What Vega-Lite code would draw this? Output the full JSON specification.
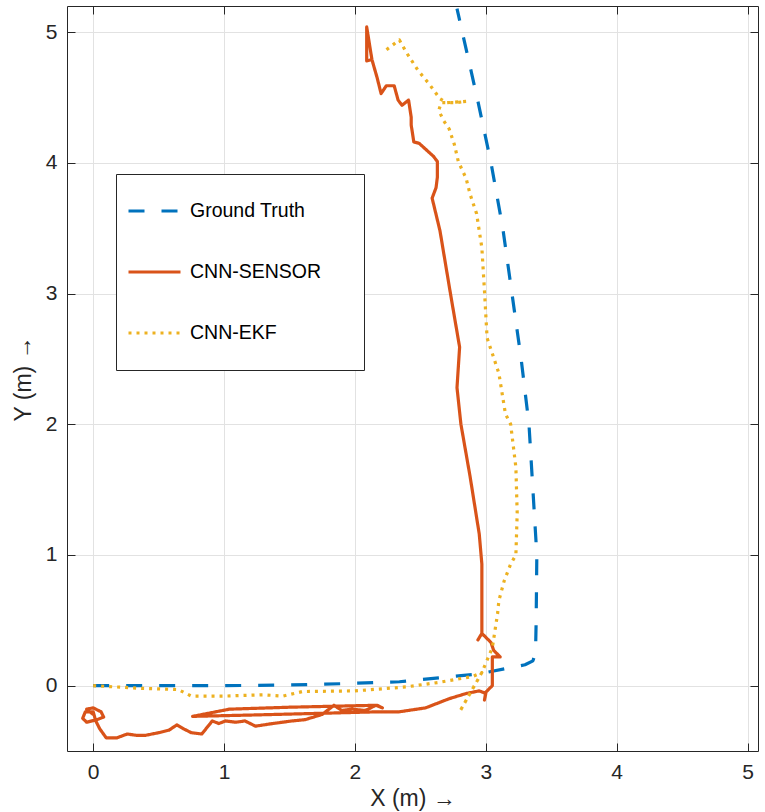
{
  "$schema": "https://vega.github.io/schema/vega-lite/v6.json",
  "width": 691,
  "height": 745,
  "padding": {"left": 12, "top": 5, "right": 5, "bottom": 5},
  "background": "white",
  "config": {
    "font": "Liberation Sans",
    "view": {"stroke": null},
    "axis": {
      "grid": true,
      "gridColor": "#e2e2e2",
      "gridWidth": 1,
      "domainColor": "#262626",
      "domainWidth": 1,
      "tickColor": "#262626",
      "tickSize": -8,
      "tickWidth": 1,
      "labelFont": "Liberation Sans",
      "labelFontSize": 21,
      "labelColor": "#262626",
      "labelPadding": 18,
      "titleFont": "Liberation Sans",
      "titleFontSize": 23,
      "titleFontWeight": "normal",
      "titleColor": "#262626"
    },
    "legend": {
      "orient": "none",
      "legendX": 49,
      "legendY": 168,
      "symbolType": "stroke",
      "symbolSize": 2704,
      "symbolStrokeWidth": 3,
      "labelFont": "Liberation Sans",
      "labelFontSize": 19.5,
      "labelColor": "#000000",
      "labelOffset": 8,
      "labelLimit": 300,
      "clipHeight": 52,
      "padding": 11,
      "rowPadding": 9,
      "strokeColor": "#262626",
      "fillColor": "white",
      "titleOrient": "right",
      "titlePadding": 32,
      "titleFontSize": 19
    }
  },
  "data": {
    "values": [
      {"s": "Ground Truth", "i": 0, "x": 0, "y": 0},
      {"s": "Ground Truth", "i": 1, "x": 0.5, "y": 0},
      {"s": "Ground Truth", "i": 2, "x": 1.0, "y": 0},
      {"s": "Ground Truth", "i": 3, "x": 1.5, "y": 0.005},
      {"s": "Ground Truth", "i": 4, "x": 1.9, "y": 0.015},
      {"s": "Ground Truth", "i": 5, "x": 2.34, "y": 0.03},
      {"s": "Ground Truth", "i": 6, "x": 2.64, "y": 0.06},
      {"s": "Ground Truth", "i": 7, "x": 2.95, "y": 0.09},
      {"s": "Ground Truth", "i": 8, "x": 3.15, "y": 0.13},
      {"s": "Ground Truth", "i": 9, "x": 3.3, "y": 0.16},
      {"s": "Ground Truth", "i": 10, "x": 3.36, "y": 0.19},
      {"s": "Ground Truth", "i": 11, "x": 3.38, "y": 0.25},
      {"s": "Ground Truth", "i": 12, "x": 3.385, "y": 0.5},
      {"s": "Ground Truth", "i": 13, "x": 3.39, "y": 1.0},
      {"s": "Ground Truth", "i": 14, "x": 3.36, "y": 1.5},
      {"s": "Ground Truth", "i": 15, "x": 3.33, "y": 2.0},
      {"s": "Ground Truth", "i": 16, "x": 3.27, "y": 2.5},
      {"s": "Ground Truth", "i": 17, "x": 3.2, "y": 3.0},
      {"s": "Ground Truth", "i": 18, "x": 3.13, "y": 3.5},
      {"s": "Ground Truth", "i": 19, "x": 3.04, "y": 4.0},
      {"s": "Ground Truth", "i": 20, "x": 2.94, "y": 4.47},
      {"s": "Ground Truth", "i": 21, "x": 2.78, "y": 5.18},

      {"s": "CNN-SENSOR", "i": 0, "x": 0.0, "y": -0.22},
      {"s": "CNN-SENSOR", "i": 1, "x": -0.05, "y": -0.18},
      {"s": "CNN-SENSOR", "i": 2, "x": 0.0, "y": -0.17},
      {"s": "CNN-SENSOR", "i": 3, "x": 0.06, "y": -0.2},
      {"s": "CNN-SENSOR", "i": 4, "x": 0.08, "y": -0.24},
      {"s": "CNN-SENSOR", "i": 5, "x": 0.03, "y": -0.26},
      {"s": "CNN-SENSOR", "i": 6, "x": -0.05, "y": -0.28},
      {"s": "CNN-SENSOR", "i": 7, "x": -0.08, "y": -0.25},
      {"s": "CNN-SENSOR", "i": 8, "x": -0.06, "y": -0.2},
      {"s": "CNN-SENSOR", "i": 9, "x": 0.0, "y": -0.2},
      {"s": "CNN-SENSOR", "i": 10, "x": 0.02, "y": -0.27},
      {"s": "CNN-SENSOR", "i": 11, "x": 0.05, "y": -0.33},
      {"s": "CNN-SENSOR", "i": 12, "x": 0.1, "y": -0.4},
      {"s": "CNN-SENSOR", "i": 13, "x": 0.18, "y": -0.4},
      {"s": "CNN-SENSOR", "i": 14, "x": 0.26, "y": -0.37},
      {"s": "CNN-SENSOR", "i": 15, "x": 0.33, "y": -0.38},
      {"s": "CNN-SENSOR", "i": 16, "x": 0.4, "y": -0.38},
      {"s": "CNN-SENSOR", "i": 17, "x": 0.5, "y": -0.36},
      {"s": "CNN-SENSOR", "i": 18, "x": 0.58, "y": -0.34},
      {"s": "CNN-SENSOR", "i": 19, "x": 0.64, "y": -0.3},
      {"s": "CNN-SENSOR", "i": 20, "x": 0.69, "y": -0.33},
      {"s": "CNN-SENSOR", "i": 21, "x": 0.75, "y": -0.36},
      {"s": "CNN-SENSOR", "i": 22, "x": 0.83, "y": -0.37},
      {"s": "CNN-SENSOR", "i": 23, "x": 0.91, "y": -0.27},
      {"s": "CNN-SENSOR", "i": 24, "x": 0.96, "y": -0.29},
      {"s": "CNN-SENSOR", "i": 25, "x": 1.01, "y": -0.27},
      {"s": "CNN-SENSOR", "i": 26, "x": 1.09, "y": -0.28},
      {"s": "CNN-SENSOR", "i": 27, "x": 1.16, "y": -0.27},
      {"s": "CNN-SENSOR", "i": 28, "x": 1.24, "y": -0.31},
      {"s": "CNN-SENSOR", "i": 29, "x": 1.37, "y": -0.29},
      {"s": "CNN-SENSOR", "i": 30, "x": 1.52, "y": -0.27},
      {"s": "CNN-SENSOR", "i": 31, "x": 1.62, "y": -0.26},
      {"s": "CNN-SENSOR", "i": 32, "x": 1.75, "y": -0.22},
      {"s": "CNN-SENSOR", "i": 33, "x": 1.84, "y": -0.15},
      {"s": "CNN-SENSOR", "i": 34, "x": 1.9, "y": -0.19},
      {"s": "CNN-SENSOR", "i": 35, "x": 1.98, "y": -0.18},
      {"s": "CNN-SENSOR", "i": 36, "x": 2.08, "y": -0.19},
      {"s": "CNN-SENSOR", "i": 37, "x": 2.16, "y": -0.15},
      {"s": "CNN-SENSOR", "i": 38, "x": 2.21, "y": -0.17},
      {"s": "CNN-SENSOR", "i": 39, "x": 2.17, "y": -0.15},
      {"s": "CNN-SENSOR", "i": 40, "x": 1.5, "y": -0.165},
      {"s": "CNN-SENSOR", "i": 41, "x": 1.04, "y": -0.18},
      {"s": "CNN-SENSOR", "i": 42, "x": 0.76, "y": -0.235},
      {"s": "CNN-SENSOR", "i": 43, "x": 1.2, "y": -0.225},
      {"s": "CNN-SENSOR", "i": 44, "x": 1.8, "y": -0.21},
      {"s": "CNN-SENSOR", "i": 45, "x": 2.18, "y": -0.2},
      {"s": "CNN-SENSOR", "i": 46, "x": 2.34, "y": -0.2},
      {"s": "CNN-SENSOR", "i": 47, "x": 2.54, "y": -0.17},
      {"s": "CNN-SENSOR", "i": 48, "x": 2.72, "y": -0.1},
      {"s": "CNN-SENSOR", "i": 49, "x": 2.85, "y": -0.06},
      {"s": "CNN-SENSOR", "i": 50, "x": 2.95, "y": -0.04},
      {"s": "CNN-SENSOR", "i": 51, "x": 3.0, "y": -0.06},
      {"s": "CNN-SENSOR", "i": 52, "x": 2.99, "y": -0.11},
      {"s": "CNN-SENSOR", "i": 53, "x": 3.0, "y": -0.05},
      {"s": "CNN-SENSOR", "i": 54, "x": 3.05, "y": 0.0},
      {"s": "CNN-SENSOR", "i": 55, "x": 3.05, "y": 0.22},
      {"s": "CNN-SENSOR", "i": 56, "x": 3.11, "y": 0.22},
      {"s": "CNN-SENSOR", "i": 57, "x": 3.06, "y": 0.27},
      {"s": "CNN-SENSOR", "i": 58, "x": 3.04, "y": 0.33},
      {"s": "CNN-SENSOR", "i": 59, "x": 2.97, "y": 0.4},
      {"s": "CNN-SENSOR", "i": 60, "x": 2.94, "y": 0.35},
      {"s": "CNN-SENSOR", "i": 61, "x": 2.97, "y": 0.4},
      {"s": "CNN-SENSOR", "i": 62, "x": 2.97, "y": 0.65},
      {"s": "CNN-SENSOR", "i": 63, "x": 2.97, "y": 0.93},
      {"s": "CNN-SENSOR", "i": 64, "x": 2.95, "y": 1.16},
      {"s": "CNN-SENSOR", "i": 65, "x": 2.88, "y": 1.6},
      {"s": "CNN-SENSOR", "i": 66, "x": 2.81, "y": 2.0},
      {"s": "CNN-SENSOR", "i": 67, "x": 2.78, "y": 2.28},
      {"s": "CNN-SENSOR", "i": 68, "x": 2.8, "y": 2.59},
      {"s": "CNN-SENSOR", "i": 69, "x": 2.73, "y": 3.0},
      {"s": "CNN-SENSOR", "i": 70, "x": 2.65, "y": 3.48},
      {"s": "CNN-SENSOR", "i": 71, "x": 2.59, "y": 3.73},
      {"s": "CNN-SENSOR", "i": 72, "x": 2.62, "y": 3.81},
      {"s": "CNN-SENSOR", "i": 73, "x": 2.63, "y": 3.89},
      {"s": "CNN-SENSOR", "i": 74, "x": 2.63, "y": 4.01},
      {"s": "CNN-SENSOR", "i": 75, "x": 2.6, "y": 4.05},
      {"s": "CNN-SENSOR", "i": 76, "x": 2.49, "y": 4.15},
      {"s": "CNN-SENSOR", "i": 77, "x": 2.45, "y": 4.16},
      {"s": "CNN-SENSOR", "i": 78, "x": 2.43, "y": 4.29},
      {"s": "CNN-SENSOR", "i": 79, "x": 2.43, "y": 4.35},
      {"s": "CNN-SENSOR", "i": 80, "x": 2.41, "y": 4.48},
      {"s": "CNN-SENSOR", "i": 81, "x": 2.36, "y": 4.44},
      {"s": "CNN-SENSOR", "i": 82, "x": 2.33, "y": 4.48},
      {"s": "CNN-SENSOR", "i": 83, "x": 2.3, "y": 4.59},
      {"s": "CNN-SENSOR", "i": 84, "x": 2.24, "y": 4.59},
      {"s": "CNN-SENSOR", "i": 85, "x": 2.2, "y": 4.53},
      {"s": "CNN-SENSOR", "i": 86, "x": 2.17, "y": 4.65},
      {"s": "CNN-SENSOR", "i": 87, "x": 2.13, "y": 4.79},
      {"s": "CNN-SENSOR", "i": 88, "x": 2.09, "y": 4.78},
      {"s": "CNN-SENSOR", "i": 89, "x": 2.09, "y": 5.04},
      {"s": "CNN-SENSOR", "i": 90, "x": 2.13, "y": 4.79},

      {"s": "CNN-EKF", "i": 0, "x": 0, "y": 0},
      {"s": "CNN-EKF", "i": 1, "x": 0.35, "y": -0.02},
      {"s": "CNN-EKF", "i": 2, "x": 0.65, "y": -0.03},
      {"s": "CNN-EKF", "i": 3, "x": 0.75, "y": -0.08},
      {"s": "CNN-EKF", "i": 4, "x": 1.0, "y": -0.08},
      {"s": "CNN-EKF", "i": 5, "x": 1.3, "y": -0.07},
      {"s": "CNN-EKF", "i": 6, "x": 1.45, "y": -0.08},
      {"s": "CNN-EKF", "i": 7, "x": 1.6, "y": -0.045},
      {"s": "CNN-EKF", "i": 8, "x": 2.0, "y": -0.04},
      {"s": "CNN-EKF", "i": 9, "x": 2.39, "y": -0.01},
      {"s": "CNN-EKF", "i": 10, "x": 2.64, "y": 0.025},
      {"s": "CNN-EKF", "i": 11, "x": 2.9, "y": 0.07},
      {"s": "CNN-EKF", "i": 12, "x": 2.97, "y": 0.1},
      {"s": "CNN-EKF", "i": 13, "x": 2.8, "y": -0.2},
      {"s": "CNN-EKF", "i": 14, "x": 2.97, "y": 0.1},
      {"s": "CNN-EKF", "i": 15, "x": 3.05, "y": 0.29},
      {"s": "CNN-EKF", "i": 16, "x": 3.09, "y": 0.55},
      {"s": "CNN-EKF", "i": 17, "x": 3.1, "y": 0.65},
      {"s": "CNN-EKF", "i": 18, "x": 3.14, "y": 0.8},
      {"s": "CNN-EKF", "i": 19, "x": 3.19, "y": 0.93},
      {"s": "CNN-EKF", "i": 20, "x": 3.23, "y": 1.0},
      {"s": "CNN-EKF", "i": 21, "x": 3.24, "y": 1.32},
      {"s": "CNN-EKF", "i": 22, "x": 3.23, "y": 1.67},
      {"s": "CNN-EKF", "i": 23, "x": 3.19, "y": 2.0},
      {"s": "CNN-EKF", "i": 24, "x": 3.15, "y": 2.08},
      {"s": "CNN-EKF", "i": 25, "x": 3.1, "y": 2.39},
      {"s": "CNN-EKF", "i": 26, "x": 3.01, "y": 2.66},
      {"s": "CNN-EKF", "i": 27, "x": 2.99, "y": 3.02},
      {"s": "CNN-EKF", "i": 28, "x": 2.97, "y": 3.35},
      {"s": "CNN-EKF", "i": 29, "x": 2.93, "y": 3.61},
      {"s": "CNN-EKF", "i": 30, "x": 2.88, "y": 3.76},
      {"s": "CNN-EKF", "i": 31, "x": 2.85, "y": 3.88},
      {"s": "CNN-EKF", "i": 32, "x": 2.79, "y": 4.01},
      {"s": "CNN-EKF", "i": 33, "x": 2.76, "y": 4.14},
      {"s": "CNN-EKF", "i": 34, "x": 2.72, "y": 4.26},
      {"s": "CNN-EKF", "i": 35, "x": 2.68, "y": 4.32},
      {"s": "CNN-EKF", "i": 36, "x": 2.64, "y": 4.4},
      {"s": "CNN-EKF", "i": 37, "x": 2.66, "y": 4.46},
      {"s": "CNN-EKF", "i": 38, "x": 2.77, "y": 4.46},
      {"s": "CNN-EKF", "i": 39, "x": 2.85, "y": 4.47},
      {"s": "CNN-EKF", "i": 40, "x": 2.7, "y": 4.46},
      {"s": "CNN-EKF", "i": 41, "x": 2.65, "y": 4.49},
      {"s": "CNN-EKF", "i": 42, "x": 2.57, "y": 4.6},
      {"s": "CNN-EKF", "i": 43, "x": 2.48, "y": 4.71},
      {"s": "CNN-EKF", "i": 44, "x": 2.39, "y": 4.85},
      {"s": "CNN-EKF", "i": 45, "x": 2.34, "y": 4.94},
      {"s": "CNN-EKF", "i": 46, "x": 2.22, "y": 4.85}
    ]
  },
  "layer": [
    {
      "mark": {"type": "line", "strokeWidth": 3.2, "strokeCap": "butt", "strokeJoin": "round", "clip": true},
      "encoding": {
        "x": {
          "field": "x", "type": "quantitative",
          "scale": {"domain": [-0.2, 5.08], "nice": false, "zero": false},
          "axis": {"values": [0, 1, 2, 3, 4, 5], "title": "X (m) →", "titlePadding": 5}
        },
        "y": {
          "field": "y", "type": "quantitative",
          "scale": {"domain": [-0.5, 5.2], "nice": false, "zero": false},
          "axis": {"values": [0, 1, 2, 3, 4, 5], "title": "Y (m) →", "titlePadding": 10}
        },
        "color": {
          "field": "s", "type": "nominal",
          "scale": {"domain": ["Ground Truth", "CNN-SENSOR", "CNN-EKF"], "range": ["#0072BD", "#D95319", "#EDB120"]},
          "legend": {"title": " "}
        },
        "strokeDash": {
          "field": "s", "type": "nominal",
          "scale": {"domain": ["Ground Truth", "CNN-SENSOR", "CNN-EKF"], "range": [[16, 17], [1, 0], [3, 5]]},
          "legend": {"title": " "}
        },
        "order": {"field": "i", "type": "quantitative"}
      }
    },
    {
      "mark": {"type": "point", "opacity": 0},
      "encoding": {
        "x": {
          "field": "x", "type": "quantitative",
          "axis": {"orient": "top", "values": [0, 1, 2, 3, 4, 5], "labels": false, "grid": false, "title": null}
        },
        "y": {
          "field": "y", "type": "quantitative",
          "axis": {"orient": "right", "values": [0, 1, 2, 3, 4, 5], "labels": false, "grid": false, "title": null}
        }
      }
    }
  ],
  "resolve": {"axis": {"x": "independent", "y": "independent"}}
}
